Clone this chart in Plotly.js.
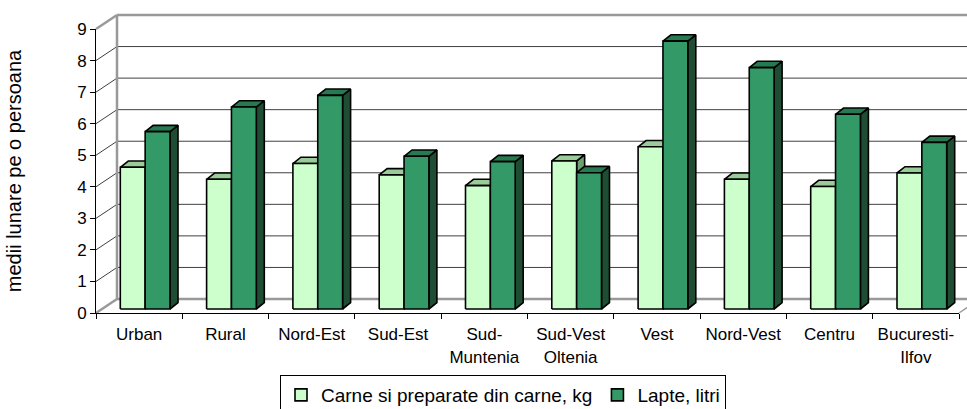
<!DOCTYPE html>
<html>
<head>
<meta charset="utf-8">
<script src="https://cdn.plot.ly/plotly-3.0.1.min.js"></script>
<style>html,body{margin:0;padding:0;background:#fff;}#chart{width:967px;height:409px;}</style>
</head>
<body>
<div id="chart"></div>
<script>
// ---- data ----
const categories = ['Urban', 'Rural', 'Nord-Est', 'Sud-Est', 'Sud-<br>Muntenia', 'Sud-Vest<br>Oltenia', 'Vest', 'Nord-Vest', 'Centru', 'Bucuresti-<br>Ilfov'];
const carne = [4.49, 4.11, 4.61, 4.25, 3.91, 4.69, 5.14, 4.11, 3.88, 4.31];
const lapte = [5.62, 6.40, 6.77, 4.84, 4.67, 4.32, 8.49, 7.65, 6.17, 5.28];
const seriesNames = ['Carne si preparate din carne, kg', 'Lapte, litri'];
const yTicks = [0, 1, 2, 3, 4, 5, 6, 7, 8, 9];

// ---- geometry / style constants ----
const XMIN = -0.5, XMAX = categories.length - 0.5, YMAX = 9;
const L = 96, R = 8, T = 29, B = 96, W = 967, H = 409;
const pxPerX = (W - L - R) / (XMAX - XMIN);
const pxPerY = (H - T - B) / YMAX;
const DX = 21 / pxPerX, DY = 14 / pxPerY;        // wall depth
const BX = 6 / pxPerX, BY = 4 / pxPerY;          // bar front face depth
const BDX = 8 / pxPerX, BDY = 6.3 / pxPerY;      // bar depth
const BW = 0.288;                                // bar width
const FONT = 'Liberation Sans, Arial, sans-serif';
const colors = {
  light: {front: '#CCFFCC', top: '#99CC99', side: '#6F9F6F'},
  dark: {front: '#339966', top: '#277A50', side: '#1F4D33'}
};

function faces(vals, which) {
  const out = {front: {x: [], y: []}, top: {x: [], y: []}, side: {x: [], y: []}};
  vals.forEach((v, i) => {
    const x0 = i + (which === 0 ? -BW : 0) + BX, x1 = x0 + BW;
    const y0 = BY, y1 = BY + v;
    const add = (f, xs, ys) => { out[f].x.push(...xs, xs[0], null); out[f].y.push(...ys, ys[0], null); };
    add('front', [x0, x1, x1, x0], [y0, y0, y1, y1]);
    add('top', [x0, x1, x1 + BDX, x0 + BDX], [y1, y1, y1 + BDY, y1 + BDY]);
    add('side', [x1, x1 + BDX, x1 + BDX, x1], [y0, y0 + BDY, y1 + BDY, y1]);
  });
  return out;
}

const traces = [];
[[carne, 'light', 0], [lapte, 'dark', 1]].forEach(([vals, c, idx]) => {
  const f = faces(vals, idx);
  ['side', 'top', 'front'].forEach(k => {
    traces.push({
      type: 'scatter', mode: 'lines', x: f[k].x, y: f[k].y,
      fill: 'toself', fillcolor: colors[c][k],
      line: {color: '#000', width: 1.6}, showlegend: false, hoverinfo: 'skip'
    });
  });
});
// legend entries
[['light', 0], ['dark', 1]].forEach(([c, idx]) => {
  traces.push({type: 'bar', x: [null], y: [null], name: seriesNames[idx],
    marker: {color: colors[c].front, line: {color: '#000', width: 1.6}}, showlegend: true});
});

// ---- walls & gridlines (paper coords derived from axis scale) ----
const px = xd => (xd - XMIN) / (XMAX - XMIN);
const py = yd => yd / YMAX;
const shapes = [];
const ln = (x0, y0, x1, y1, color, width) => shapes.push({type: 'line', xref: 'paper', yref: 'paper',
  x0: px(x0), y0: py(y0), x1: px(x1), y1: py(y1), line: {color: color, width: width}, layer: 'below'});
const FAR = XMAX + 2;
const GRID = '#404040', EDGE = '#999999';
yTicks.forEach(k => {
  const edge = (k === 0 || k === YMAX);
  ln(XMIN + DX, k + DY, FAR, k + DY, edge ? EDGE : GRID, edge ? 2.5 : 1);
  ln(XMIN, k, XMIN + DX, k + DY, edge ? EDGE : GRID, edge ? 2.5 : 1);
});
ln(XMIN + DX, DY, XMIN + DX, YMAX + DY, EDGE, 2.5);
ln(XMAX, 0, XMAX + DX, DY, EDGE, 1.5);

const layout = {
  width: W, height: H,
  margin: {l: L, r: R, t: T, b: B, pad: 0, autoexpand: false},
  paper_bgcolor: '#fff', plot_bgcolor: 'rgba(0,0,0,0)',
  font: {family: FONT, size: 17, color: '#000'},
  showlegend: true,
  barmode: 'overlay',
  xaxis: {
    range: [XMIN, XMAX], fixedrange: true, showgrid: false, zeroline: false,
    showline: true, linecolor: '#000', linewidth: 1,
    tickmode: 'array', tickvals: categories.map((_, i) => i), ticktext: categories,
    ticks: '', ticklabelstandoff: 6,
    tickfont: {family: FONT, size: 17, color: '#000'},
    minor: {tickmode: 'array', tickvals: categories.map((_, i) => i - 0.5).concat([XMAX]),
      ticks: 'outside', ticklen: 5, tickcolor: '#000', tickwidth: 1, showgrid: false}
  },
  yaxis: {
    range: [0, YMAX], fixedrange: true, showgrid: false, zeroline: false,
    showline: true, linecolor: '#000', linewidth: 1,
    tickmode: 'array', tickvals: yTicks,
    ticks: 'outside', ticklen: 5, tickcolor: '#000',
    tickfont: {family: FONT, size: 17, color: '#000'},
    title: {text: 'medii lunare pe o persoana', font: {family: FONT, size: 20, color: '#000'}, standoff: 50}
  },
  legend: {
    orientation: 'h', x: (280 - L) / (W - L - R), y: -(375 - (H - B)) / (H - T - B),
    xanchor: 'left', yanchor: 'top',
    bordercolor: '#000', borderwidth: 1, bgcolor: '#fff',
    font: {family: FONT, size: 19, color: '#000'}, itemwidth: 30, traceorder: 'normal'
  },
  shapes: shapes
};

Plotly.newPlot('chart', traces, layout, {displayModeBar: false, staticPlot: true});
</script>
</body>
</html>
